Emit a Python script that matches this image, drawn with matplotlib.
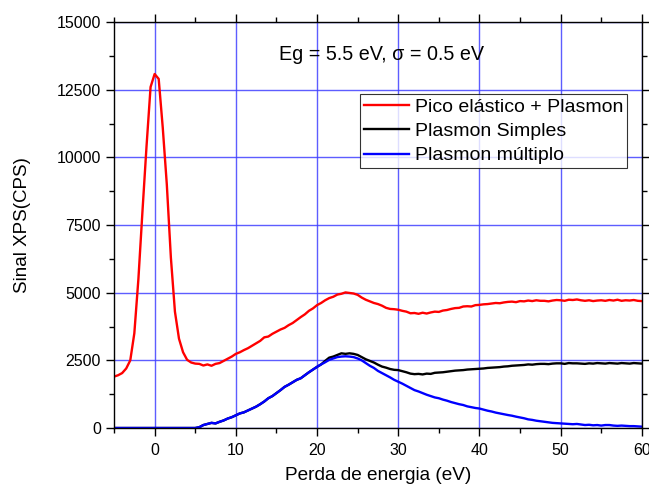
import numpy as np
import matplotlib
matplotlib.use("Agg")
import matplotlib.pyplot as plt
from matplotlib.ticker import MultipleLocator

plt.rcParams['font.family'] = ['Liberation Sans', 'DejaVu Sans']

energy = np.arange(-5, 60.01, 0.5)

pico_plasmon = [
    1900, 1950, 2030, 2200, 2500, 3500, 5500, 8000, 10400, 12600,
    13080, 12900, 11100, 9000, 6300, 4300, 3300, 2800, 2520, 2420,
    2380, 2370, 2310, 2350, 2300, 2370, 2400, 2480, 2560, 2640,
    2740, 2800, 2880, 2950, 3040, 3130, 3220, 3350, 3380, 3480,
    3560, 3640, 3700, 3800, 3880, 3990, 4100, 4200, 4330, 4420,
    4540, 4620, 4720, 4800, 4850, 4930, 4960, 5010, 4990, 4970,
    4920, 4820, 4740, 4680, 4620, 4580, 4520, 4440, 4400, 4390,
    4370, 4330, 4300, 4240, 4250, 4220, 4260, 4230, 4270, 4300,
    4290, 4340, 4360, 4400, 4430, 4440, 4490, 4500, 4490, 4540,
    4550, 4570, 4580, 4600, 4620, 4610, 4640, 4660, 4670, 4650,
    4690, 4680, 4710, 4690, 4720, 4700, 4700, 4680, 4710, 4730,
    4720, 4700, 4740, 4730, 4750, 4720, 4700, 4720, 4690, 4710,
    4720, 4700, 4730, 4710, 4740, 4700, 4720, 4710, 4730, 4700,
    4690]

plasmon_simples = [
    0, 0, 0, 0, 0, 0, 0, 0, 0, 0,
    0, 0, 0, 0, 0, 0, 0, 0, 0, 0,
    0, 30, 110, 150, 190, 170, 230, 280, 350, 400,
    470, 540, 580, 650, 720, 790, 880, 980, 1100, 1180,
    1290, 1400, 1520, 1600, 1690, 1780, 1840, 1950, 2060, 2160,
    2260, 2350, 2480, 2600, 2640, 2700, 2760, 2740, 2760, 2740,
    2700, 2620, 2540, 2480, 2420, 2340, 2270, 2230, 2180, 2150,
    2140, 2100, 2060, 2010, 1990, 2000, 1980, 2010, 2000, 2040,
    2050, 2060, 2080, 2100, 2120, 2130, 2140, 2160, 2170, 2180,
    2190, 2200, 2220, 2230, 2240, 2250, 2270, 2280, 2300, 2310,
    2320, 2330, 2350, 2340, 2360, 2370, 2370, 2360, 2380, 2390,
    2390, 2370, 2400, 2390, 2390, 2380, 2370, 2390, 2380, 2400,
    2390, 2380, 2400, 2390, 2380, 2400, 2390, 2380, 2400, 2390,
    2380]

plasmon_multiplo = [
    0, 0, 0, 0, 0, 0, 0, 0, 0, 0,
    0, 0, 0, 0, 0, 0, 0, 0, 0, 0,
    0, 30, 110, 150, 190, 170, 230, 280, 350, 400,
    470, 540, 580, 650, 720, 790, 880, 980, 1100, 1180,
    1290, 1400, 1520, 1600, 1690, 1780, 1840, 1950, 2060, 2160,
    2260, 2350, 2430, 2520, 2570, 2620, 2640, 2650, 2640, 2620,
    2570, 2500, 2400, 2300, 2220, 2110, 2030, 1950, 1870, 1780,
    1710, 1640, 1560, 1480, 1400, 1350, 1290, 1230, 1180, 1130,
    1100, 1050, 1010, 960, 920, 880, 850, 800, 770, 740,
    720, 680, 640, 610, 570, 540, 510, 480, 455, 420,
    390, 360, 320, 300, 270, 250, 230, 210, 190, 180,
    170, 160, 150, 140, 150, 130, 110, 120, 100, 110,
    90, 110, 110, 90, 80, 90, 80, 70, 70, 60,
    50]

labels = ["Pico elástico + Plasmon", "Plasmon Simples", "Plasmon múltiplo"]

fig = plt.figure(figsize=(6.49, 4.90), dpi=100)
ax = fig.add_axes([0.1757, 0.1265, 0.8133, 0.8285])

ax.plot(energy, pico_plasmon, color='#ff0000', lw=1.7, label=labels[0])
ax.plot(energy, plasmon_simples, color='#000000', lw=1.7, label=labels[1])
ax.plot(energy, plasmon_multiplo, color='#0000ff', lw=1.7, label=labels[2])

ax.set_xlim(-5, 60)
ax.set_ylim(0, 15000)
ax.xaxis.set_major_locator(MultipleLocator(10))
ax.xaxis.set_minor_locator(MultipleLocator(5))
ax.yaxis.set_major_locator(MultipleLocator(2500))
ax.yaxis.set_minor_locator(MultipleLocator(1250))
ax.grid(True, which='major', color='#4040ff', lw=1.0, alpha=0.85)
ax.set_axisbelow(True)

ax.tick_params(axis='both', which='both', direction='out',
               top=True, right=True, labelsize=11.5, width=1.0)
ax.tick_params(axis='x', which='major', pad=5)
ax.tick_params(which='major', length=6)
ax.tick_params(which='minor', length=3.5)
for s in ax.spines.values():
    s.set_linewidth(1.0)

ax.set_xlabel("Perda de energia (eV)", fontsize=13.7, labelpad=6)
ax.set_ylabel("Sinal XPS(CPS)", fontsize=13.5, labelpad=18)

ax.text(0.5066, 0.9064, "Eg = 5.5 eV, σ = 0.5 eV", transform=ax.transAxes,
        ha='center', va='baseline', fontsize=14.2)

leg = ax.legend(loc='upper right', bbox_to_anchor=(0.9716, 0.8227), fontsize=14,
                frameon=True, fancybox=False, edgecolor='#000000',
                borderpad=0.2, labelspacing=0.35, handlelength=2.3,
                handletextpad=0.3, borderaxespad=0.0)
leg.get_frame().set_linewidth(0.8)

fig.savefig("out.png", dpi=100)
